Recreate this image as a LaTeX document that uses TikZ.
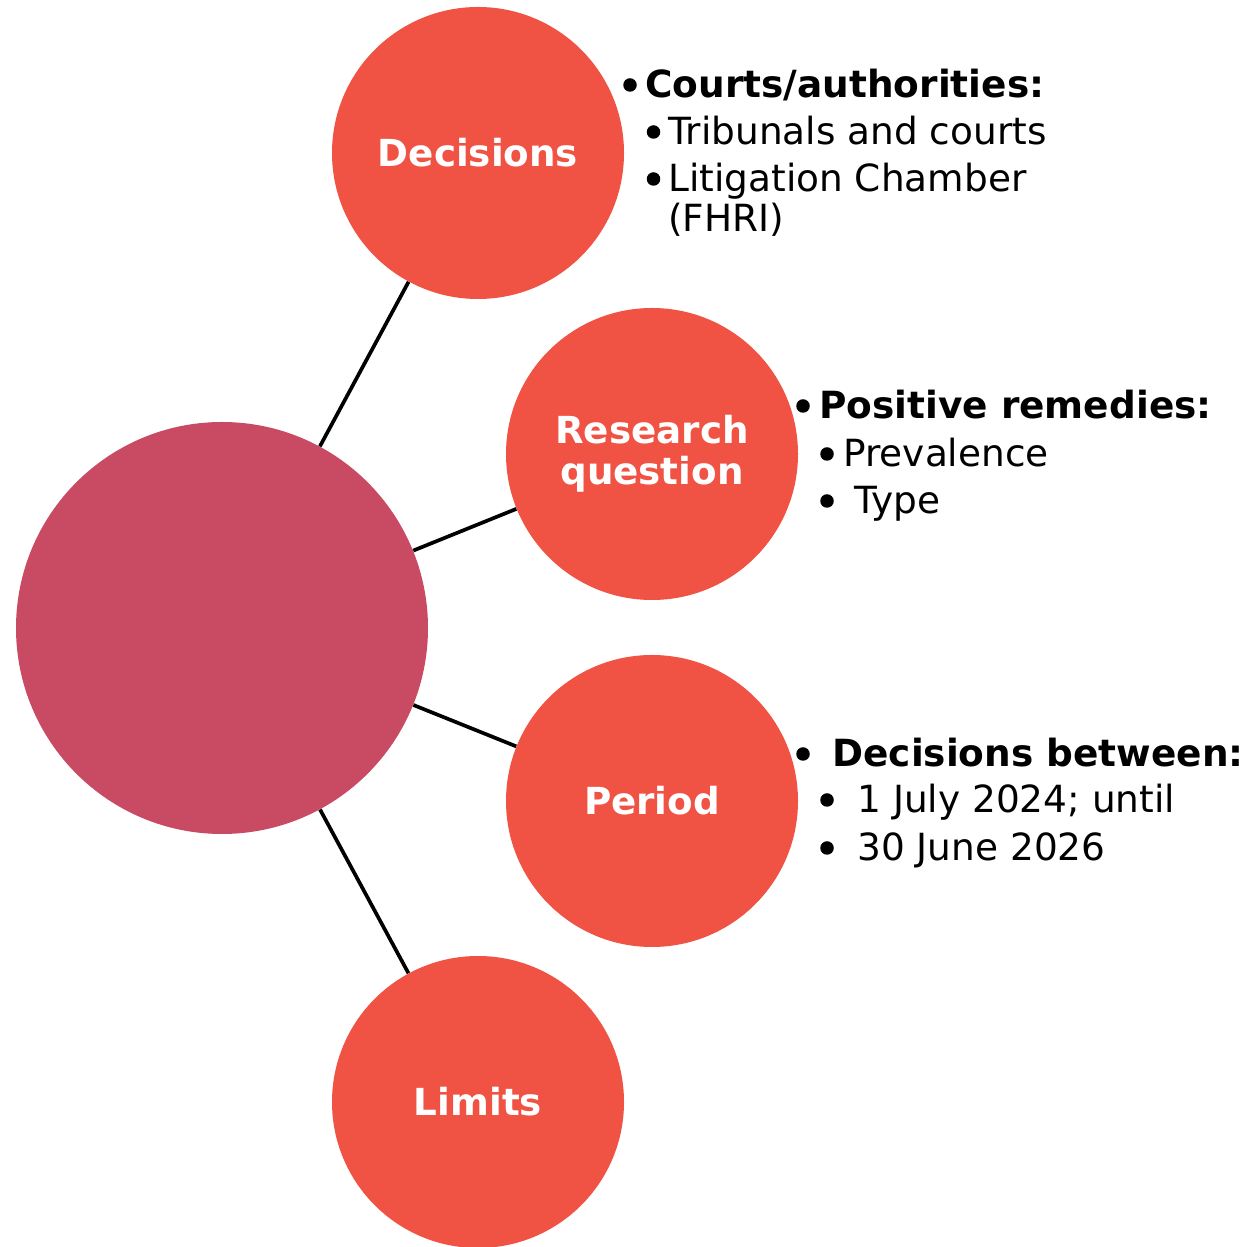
\documentclass[tikz,border=0pt]{standalone}
\usepackage{fontspec}
\setmainfont{DejaVu Sans}
\definecolor{hubred}{HTML}{C94A63}
\definecolor{topicred}{HTML}{F05243}

\begin{document}
\begin{tikzpicture}[
    hub/.style={circle, fill=hubred, minimum size=8.24cm, inner sep=0pt},
    topic/.style={circle, fill=topicred, minimum size=5.84cm, inner sep=0pt,
        text=white, align=center, font=\fontsize{21.2}{23.4}\selectfont\bfseries},
    item/.style={anchor=base west, inner sep=0pt, font=\fontsize{21.3}{25}\selectfont},
    link/.style={line width=2.1pt}
]
    \useasboundingbox (0,0) rectangle (24.9,24.94);

    % Circles
    \node[hub] (hub) at (4.44,12.38) {};
    \node[topic] (dec) at (9.56,21.88) {Decisions};
    \node[topic] (rq) at (13.04,15.86) {Research\\question};
    \node[topic] (per) at (13.04,8.92) {Period};
    \node[topic] (lim) at (9.56,2.90) {Limits};

    % Links
    \draw[link] (hub) -- (dec);
    \draw[link] (hub) -- (rq);
    \draw[link] (hub) -- (per);
    \draw[link] (hub) -- (lim);

    % Items next to Decisions
    \node[item] (dec1) at (12.90,22.98) {\textbf{Courts/authorities:}};
    \node[item] (dec2) at (13.36,22.04) {Tribunals and courts};
    \node[item] (dec3) at (13.36,21.10) {Litigation Chamber};
    \node[item] (dec4) at (13.36,20.30) {(FHRI)};

    % Items next to Research question
    \node[item] (rq1) at (16.38,16.56) {\textbf{Positive remedies:}};
    \node[item] (rq2) at (16.86,15.60) {Prevalence};
    \node[item] (rq3) at (17.08,14.66) {Type};

    % Items next to Period
    \node[item] (per1) at (16.64,9.60) {\textbf{Decisions between:}};
    \node[item] (per2) at (17.14,8.68) {1 July 2024; until};
    \node[item] (per3) at (17.14,7.72) {30 June 2026};

    % Bullets
    \foreach \n/\d in {dec1/0.30, dec2/0.29, dec3/0.29, rq1/0.32, rq2/0.32,
                       rq3/0.54, per1/0.58, per2/0.60, per3/0.60}
        \fill ([xshift=-\d cm, yshift=0.26cm]\n.base west) circle (0.135cm);
\end{tikzpicture}
\end{document}
